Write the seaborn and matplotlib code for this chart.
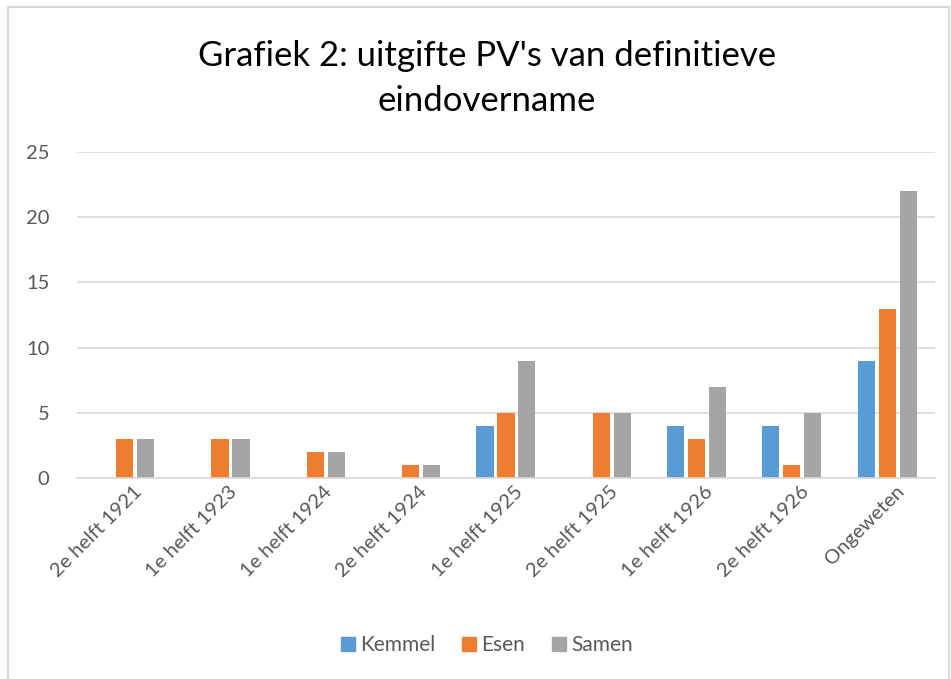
import pandas as pd
import seaborn as sns
import matplotlib.pyplot as plt
from matplotlib.patches import Rectangle
from matplotlib.transforms import ScaledTranslation

periods = ["2e helft 1921", "1e helft 1923", "1e helft 1924", "2e helft 1924",
           "1e helft 1925", "2e helft 1925", "1e helft 1926", "2e helft 1926",
           "Ongeweten"]
kemmel = [0, 0, 0, 0, 4, 0, 4, 4, 9]
esen = [3, 3, 2, 1, 5, 5, 3, 1, 13]
samen = [3, 3, 2, 1, 9, 5, 7, 5, 22]
series_names = ["Kemmel", "Esen", "Samen"]
colors = ["#5B9BD5", "#ED7D31", "#A5A5A5"]

df = pd.DataFrame({"periode": periods, "Kemmel": kemmel, "Esen": esen, "Samen": samen})
long_df = df.melt(id_vars="periode", var_name="reeks", value_name="aantal")

sns.set_theme(style="white")
plt.rcParams["font.family"] = ["Lato", "DejaVu Sans"]

fig = plt.figure(figsize=(9.51, 6.79), dpi=100)
ax = fig.add_axes([0.081, 0.296, 0.902, 0.48])

sns.barplot(data=long_df, x="periode", y="aantal", hue="reeks",
            hue_order=series_names, palette=colors, saturation=1,
            width=0.66, gap=0.18, linewidth=0, ax=ax)

ax.set_ylim(0, 25)
ax.set_xlim(-0.5, len(periods) - 0.5)
ax.set_yticks(range(0, 26, 5))
ax.yaxis.grid(True, color="#d9d9d9", linewidth=1.2)
ax.set_axisbelow(True)
for s in ["top", "right", "left"]:
    ax.spines[s].set_visible(False)
ax.spines["bottom"].set_color("#d9d9d9")
ax.spines["bottom"].set_linewidth(1.2)
ax.set_xlabel("")
ax.set_ylabel("")
ax.tick_params(axis="both", length=0, colors="#595959", labelsize=14.5)
ax.tick_params(axis="y", pad=20)
shift = ScaledTranslation(0.08, 0, fig.dpi_scale_trans)
for lbl in ax.get_xticklabels():
    lbl.set_rotation(45)
    lbl.set_ha("right")
    lbl.set_rotation_mode("anchor")
    lbl.set_transform(lbl.get_transform() + shift)

fig.text(0.512, 0.885, "Grafiek 2: uitgifte PV's van definitieve\neindovername",
         ha="center", va="center", fontsize=25, color="#000000", linespacing=1.5)

ax.legend_.remove()
handles = [Rectangle((0, 0), 1, 1, color=c) for c in colors]
fig.legend(handles, series_names, loc="center", bbox_to_anchor=(0.512, 0.05),
           ncol=3, frameon=False, fontsize=15, handlelength=0.65, handleheight=0.65,
           handletextpad=0.25, columnspacing=1.3, labelcolor="#595959")

# chart area border
fig.add_artist(Rectangle((0.008, -0.01), 0.99, 0.999, transform=fig.transFigure,
                         fill=False, edgecolor="#d9d9d9", linewidth=1.5))

fig.savefig("out.png", dpi=100)
